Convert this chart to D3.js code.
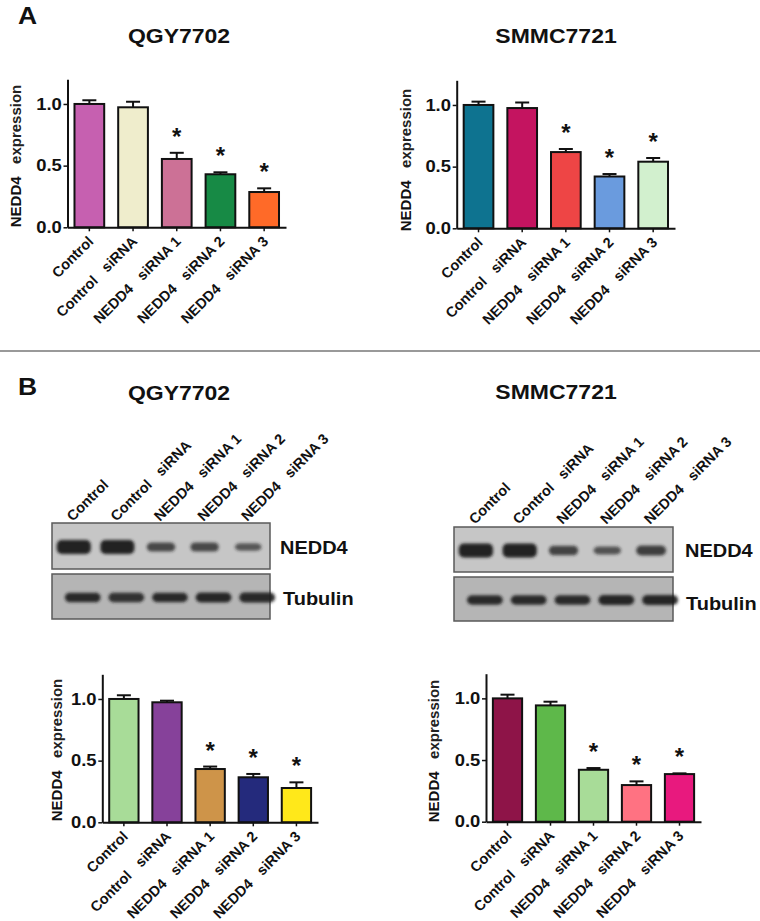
<!DOCTYPE html>
<html><head><meta charset="utf-8">
<script src="https://cdn.jsdelivr.net/npm/d3@7"></script>
<style>
html,body{margin:0;padding:0;background:#fff;}
svg{display:block;font-family:"Liberation Sans",Arial,Helvetica,sans-serif;}
text{white-space:pre;}
</style></head><body>
<svg id="fig" width="760" height="921"></svg>
<script>
// ---------------- data ----------------
const categories = ["Control", "Control  siRNA", "NEDD4  siRNA 1", "NEDD4  siRNA 2", "NEDD4  siRNA 3"];
const significant = [false, false, true, true, true];
const yTicks = [0.0, 0.5, 1.0];

// Panel A (qPCR)
const qgyA      = [1.00, 0.973, 0.554, 0.430, 0.286];
const qgyAErr   = [0.030, 0.045, 0.050, 0.016, 0.030];
const smmcA     = [1.00, 0.975, 0.618, 0.420, 0.540];
const smmcAErr  = [0.027, 0.045, 0.025, 0.020, 0.030];
// Panel B (western blot quantification)
const qgyB      = [1.00, 0.973, 0.432, 0.365, 0.278];
const qgyBErr   = [0.030, 0.013, 0.020, 0.027, 0.046];
const smmcB     = [1.00, 0.943, 0.421, 0.297, 0.386];
const smmcBErr  = [0.030, 0.030, 0.014, 0.030, 0.006];

// Blot band intensities (relative)
const qgyBlotNEDD4  = [1.00, 1.00, 0.55, 0.55, 0.40];
const qgyBlotTub    = [0.85, 0.82, 0.84, 0.88, 0.92];
const smmcBlotNEDD4 = [1.00, 1.00, 0.60, 0.45, 0.65];
const smmcBlotTub   = [0.84, 0.84, 0.84, 0.88, 0.88];

const qgyAColors  = ["#C660B0", "#EFEDCC", "#CC7196", "#178A45", "#FF6A28"];
const smmcAColors = ["#0E7390", "#C41460", "#EE4545", "#6A9BDE", "#D2F0CE"];
const qgyBColors  = ["#A8DC98", "#86419A", "#CE9449", "#242A7C", "#FFE81A"];
const smmcBColors = ["#8E1448", "#5EB84A", "#A8DC98", "#FF7282", "#E8197E"];

// ---------------- drawing ----------------
const svg = d3.select("#fig");
const SX = 1.15; // horizontal stretch of the original figure's lettering
const wide = s => s.replace(/  /g, "\u00A0\u00A0\u00A0");

const defs = svg.append("defs");
defs.append("filter").attr("id", "blur").attr("x", "-30%").attr("y", "-60%").attr("width", "160%").attr("height", "220%")
  .append("feGaussianBlur").attr("stdDeviation", 1.7);

// divider
svg.append("line").attr("x1", 0).attr("x2", 760).attr("y1", 351).attr("y2", 351)
  .attr("stroke", "#999").attr("stroke-width", 2);

function hText(x, y, t, size, anchor) {
  return svg.append("text").attr("transform", `translate(${x},${y}) scale(${SX},1)`)
    .attr("text-anchor", anchor || "start").attr("font-size", size).attr("font-weight", "bold")
    .attr("fill", "#111").text(t);
}

// panel letters
hText(18, 24, "A", 23);
hText(18, 395, "B", 23);

// titles
[[179, 43, "QGY7702"], [556, 43, "SMMC7721"], [179, 400, "QGY7702"], [556, 399, "SMMC7721"]].forEach(([x, y, t]) => {
  hText(x, y, t, 20, "middle");
});

function barChart(cfg) {
  const g = svg.append("g");
  const x = d3.scaleBand().domain(categories).range([cfg.x0, cfg.x1]).paddingInner(0.32).paddingOuter(0.16);
  const y = d3.scaleLinear().domain([0, 1.2]).range([cfg.y0, cfg.y0 - 148]);
  const data = categories.map((c, i) => ({ c, v: cfg.values[i], e: cfg.errs[i], col: cfg.colors[i], sig: significant[i] }));

  // error bars
  const eb = g.selectAll("g.err").data(data).join("g").attr("class", "err");
  eb.append("line")
    .attr("x1", d => x(d.c) + x.bandwidth() / 2).attr("x2", d => x(d.c) + x.bandwidth() / 2)
    .attr("y1", d => y(d.v)).attr("y2", d => y(d.v + d.e))
    .attr("stroke", "#111").attr("stroke-width", 2);
  eb.append("line")
    .attr("x1", d => x(d.c) + x.bandwidth() / 2 - 7).attr("x2", d => x(d.c) + x.bandwidth() / 2 + 7)
    .attr("y1", d => y(d.v + d.e)).attr("y2", d => y(d.v + d.e))
    .attr("stroke", "#111").attr("stroke-width", 2);

  // bars
  g.selectAll("rect.bar").data(data).join("rect").attr("class", "bar")
    .attr("x", d => x(d.c)).attr("width", x.bandwidth())
    .attr("y", d => y(d.v)).attr("height", d => y(0) - y(d.v))
    .attr("fill", d => d.col).attr("stroke", "#111").attr("stroke-width", 2);

  // significance stars
  g.selectAll("text.star").data(data.filter(d => d.sig)).join("text").attr("class", "star")
    .attr("x", d => x(d.c) + x.bandwidth() / 2)
    .attr("y", d => y(d.v + d.e) - 8)
    .attr("text-anchor", "middle").attr("font-size", 24).attr("font-weight", "bold").attr("fill", "#111")
    .text("*");

  // y axis
  const ya = g.append("g").attr("transform", `translate(${cfg.x0},0)`)
    .call(d3.axisLeft(y).tickValues(yTicks).tickFormat(d3.format(".1f")).tickSize(4).tickSizeOuter(0).tickPadding(1));
  ya.select(".domain").attr("stroke", "#111").attr("stroke-width", 2);
  ya.selectAll(".tick line").attr("stroke", "#111").attr("stroke-width", 1.5);
  ya.selectAll(".tick text").attr("font-size", 16).attr("font-weight", "bold").attr("fill", "#111")
    .attr("font-family", "'Liberation Sans',Arial,sans-serif")
    .attr("transform", `scale(${SX},1)`);

  // x axis
  const xa = g.append("g").attr("transform", `translate(0,${cfg.y0})`)
    .call(d3.axisBottom(x).tickSize(4).tickSizeOuter(0).tickFormat(""));
  xa.select(".domain").attr("stroke", "#111").attr("stroke-width", 2);
  xa.selectAll(".tick line").attr("stroke", "#111").attr("stroke-width", 1.5);

  // rotated category labels
  g.selectAll("text.cat").data(categories).join("text").attr("class", "cat")
    .attr("transform", c => `translate(${x(c) + x.bandwidth() / 2 + 5},${cfg.y0 + 15}) rotate(-45)`)
    .attr("text-anchor", "end").attr("font-size", 14.5).attr("font-weight", "bold").attr("fill", "#111")
    .text(c => wide(c));

  // y label
  const yl = g.append("text")
    .attr("transform", `translate(${cfg.ylx},${cfg.yly}) rotate(-90)`)
    .attr("text-anchor", "middle").attr("font-size", 15).attr("fill", "#111").attr("font-weight", "bold");
  yl.append("tspan").text("NEDD4\u00A0\u00A0\u00A0");
  yl.append("tspan").attr("fill", "#222").text("expression");
}

barChart({ x0: 67.5, x1: 286, y0: 227.3, values: qgyA, errs: qgyAErr, colors: qgyAColors, ylx: 21, yly: 156 });
barChart({ x0: 456.7, x1: 675, y0: 228.3, values: smmcA, errs: smmcAErr, colors: smmcAColors, ylx: 411, yly: 160 });
barChart({ x0: 102.3, x1: 318, y0: 822.3, values: qgyB, errs: qgyBErr, colors: qgyBColors, ylx: 62, yly: 750 });
barChart({ x0: 486, x1: 701, y0: 821.7, values: smmcB, errs: smmcBErr, colors: smmcBColors, ylx: 439, yly: 751 });

function blot(cfg) {
  const g = svg.append("g");
  const x = d3.scaleBand().domain(categories).range([cfg.x0, cfg.x1]).padding(0);
  const strong = d3.scaleLinear().domain([0, 1]).range([0.5, 0.78]);
  const thick = d3.scaleLinear().domain([0, 1]).range([3, 14]);
  const dark = d3.scaleLinear().domain([0, 1]).range([0.45, 0.97]);

  const panels = [
    { name: "NEDD4", y: cfg.ny, h: cfg.nh, vals: cfg.nedd4, bg: "#c6c6c6", ly: cfg.nly, lx: cfg.nlx, tub: false },
    { name: "Tubulin", y: cfg.ty, h: cfg.th, vals: cfg.tub, bg: "#b5b5b5", ly: cfg.tly, lx: cfg.tlx, tub: true }
  ];
  panels.forEach(p => {
    g.append("rect").attr("x", cfg.x0).attr("y", p.y).attr("width", cfg.x1 - cfg.x0).attr("height", p.h)
      .attr("fill", p.bg).attr("stroke", "#5a5a5a").attr("stroke-width", 1.5);
    const d = categories.map((c, i) => ({ c, v: p.vals[i] }));
    g.append("g").attr("filter", "url(#blur)")
      .selectAll("rect").data(d).join("rect")
      .attr("x", e => x(e.c) + x.bandwidth() / 2 - x.bandwidth() * (p.tub ? 0.41 : strong(e.v)) / 2)
      .attr("width", e => x.bandwidth() * (p.tub ? 0.82 : strong(e.v)))
      .attr("y", e => p.y + p.h / 2 + 1 - (p.tub ? 4.5 + 6 * e.v : thick(e.v)) / 2)
      .attr("height", e => p.tub ? 4.5 + 6 * e.v : thick(e.v))
      .attr("rx", 5)
      .attr("fill", "#1b1b1b").attr("fill-opacity", e => dark(e.v));
    g.append("text").attr("transform", `translate(${p.lx},${p.ly}) scale(1.08,1)`)
      .attr("font-size", 18.5).attr("font-weight", "bold").attr("fill", "#111").text(p.name);
  });

  g.selectAll("text.lane").data(categories).join("text").attr("class", "lane")
    .attr("transform", c => `translate(${x(c) + x.bandwidth() / 2 - 1},${cfg.laneY}) rotate(-45)`)
    .attr("text-anchor", "start").attr("font-size", 14.5).attr("font-weight", "bold").attr("fill", "#111")
    .text(c => wide(c));
}

blot({ x0: 52, x1: 270, ny: 523, nh: 46, ty: 574, th: 45, nedd4: qgyBlotNEDD4, tub: qgyBlotTub,
       nlx: 280, nly: 554, tlx: 283, tly: 605, laneY: 522 });
blot({ x0: 454, x1: 673, ny: 527, nh: 45, ty: 577, th: 44, nedd4: smmcBlotNEDD4, tub: smmcBlotTub,
       nlx: 685, nly: 557, tlx: 686, tly: 610, laneY: 525 });
</script>
</body></html>
